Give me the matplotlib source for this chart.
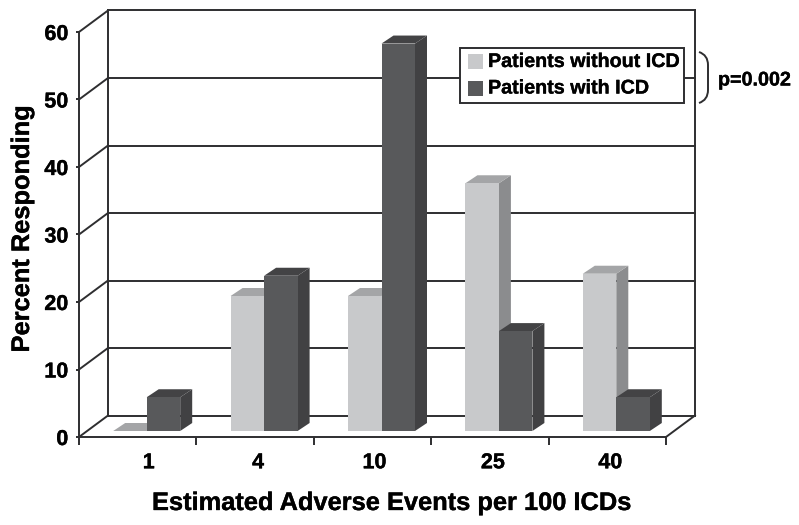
import matplotlib
matplotlib.use('Agg')
import matplotlib.pyplot as plt
import matplotlib.patheffects as pe
from matplotlib.patches import Polygon, Rectangle, PathPatch
from matplotlib.path import Path
from matplotlib.text import Text
from matplotlib.transforms import ScaledTranslation

categories = ['1', '4', '10', '25', '40']
without_icd = [0, 20, 20, 36.7, 23.3]
with_icd = [5, 23, 57.4, 14.8, 5]
y_ticks = [0, 10, 20, 30, 40, 50, 60]
labels = ['Patients without ICD', 'Patients with ICD']

W, H = 799, 525
plt.rcParams['font.family'] = ['Liberation Sans', 'DejaVu Sans']
plt.rcParams['font.weight'] = 'bold'

LINE = '#2e2e30'
LIGHT = ('#c8c9cb', '#a4a5a7', '#8b8c8e')  # front, top, side
DARK = ('#58595b', '#434345', '#414143')

fig = plt.figure(figsize=(W / 100, H / 100), dpi=100)
ax = fig.add_axes([79 / W, (H - 437) / H, (666 - 79) / W, (437 - 32) / H])
ax.set_xlim(0, 5)
ax.set_ylim(0, 60)
ax.patch.set_alpha(0)

# one data unit in pixels, used for the fake 3d depth
ux = (666 - 79) / 5
uy = (437 - 32) / 60
dx = 29 / ux
dy = 21.5 / uy

# back wall
for v in y_ticks:
    ax.plot([0, dx], [v, v + dy], color=LINE, lw=1.4, clip_on=False, zorder=1)
    ax.plot([dx, 5 + dx], [v + dy, v + dy], color=LINE, lw=1.4, clip_on=False, zorder=1)
ax.plot([dx, dx], [dy, 60 + dy], color=LINE, lw=1.4, clip_on=False, zorder=1)
ax.plot([5 + dx, 5 + dx], [dy, 60 + dy], color=LINE, lw=1.4, clip_on=False, zorder=1)
ax.plot([5, 5 + dx], [0, dy], color=LINE, lw=1.4, clip_on=False, zorder=1)


def bar3d(x, val, w, cols):
    y0 = 6 / uy
    sx = 12 / ux
    sy = 8 / uy
    top = y0 + val
    ax.add_patch(Polygon([(x + w, y0), (x + w + sx, y0 + sy), (x + w + sx, top + sy), (x + w, top)],
                         fc=cols[2], ec='none', zorder=2, clip_on=False))
    ax.add_patch(Polygon([(x, top), (x + sx, top + sy), (x + w + sx, top + sy), (x + w, top)],
                         fc=cols[1], ec='none', zorder=2, clip_on=False))
    ax.add_patch(Rectangle((x, y0), w, val, fc=cols[0], ec='none', zorder=2, clip_on=False))


bw = 33.5 / ux
shift = 9 / ux
for i in range(len(categories)):
    bar3d(i + 0.5 + shift - bw, without_icd[i], bw, LIGHT)
    bar3d(i + 0.5 + shift, with_icd[i], bw, DARK)

# front axes
for s in ['top', 'right']:
    ax.spines[s].set_visible(False)
for s in ['left', 'bottom']:
    ax.spines[s].set_linewidth(1.4)
    ax.spines[s].set_color(LINE)
    ax.spines[s].set_zorder(3)

ax.set_xticks(range(6))
ax.set_xticklabels([])
ax.tick_params(axis='x', length=6, width=1.4, color=LINE)
ax.set_xticks([i + 0.5 for i in range(5)], minor=True)
ax.set_xticklabels(categories, minor=True, fontsize=15.5, fontweight='bold', color='black')
ax.tick_params(axis='x', which='minor', length=0, pad=11)
# labels sit a bit right of the category centres in the original
for t, off in zip(ax.get_xticklabels(minor=True), [11, 3, 2, 3, 3]):
    t.set_transform(t.get_transform() + ScaledTranslation(off / 100, 0, fig.dpi_scale_trans))
ax.set_yticks(y_ticks)
ax.set_yticklabels([str(v) for v in y_ticks], fontsize=15.5, fontweight='bold', color='black')
ax.tick_params(axis='y', length=2.2, width=1.4, color=LINE, pad=5.5)

fig.text(391 / W, 1 - 510 / H, 'Estimated Adverse Events per 100 ICDs', fontsize=18.3, fontweight='bold',
         ha='center', va='baseline')
fig.text(29 / W, 1 - 229 / H, 'Percent Responding', fontsize=18.3, fontweight='bold',
         rotation=90, ha='center', va='baseline', rotation_mode='anchor')


def fx(x):
    return x / W


def fy(y):
    return 1 - y / H


# legend box
fig.add_artist(Rectangle((fx(460), fy(103)), 224 / W, 55 / H, fc='white', ec=LINE, lw=1.4,
                         transform=fig.transFigure, zorder=5))
for lab, col, y in zip(labels, [LIGHT[0], DARK[0]], [61.5, 88]):
    fig.add_artist(Rectangle((fx(468), fy(y + 7.5)), 15 / W, 15 / H, fc=col, ec='none',
                             transform=fig.transFigure, zorder=6))
    fig.text(fx(488), fy(y), lab, fontsize=14.2, fontweight='bold', va='center', ha='left', zorder=6)

# bracket and p value
brace = Path([(fx(699), fy(52)), (fx(708), fy(55)), (fx(708), fy(65)),
              (fx(708), fy(90)), (fx(708), fy(100)), (fx(699), fy(103))],
             [Path.MOVETO, Path.CURVE3, Path.CURVE3, Path.LINETO, Path.CURVE3, Path.CURVE3])
fig.add_artist(PathPatch(brace, fc='none', ec=LINE, lw=1.4, transform=fig.transFigure))
fig.text(fx(718), fy(80), 'p=0.002', fontsize=14.2, fontweight='bold', va='center', ha='left')

# the original type is heavier than Liberation bold
for t in fig.findobj(Text):
    t.set_path_effects([pe.withStroke(linewidth=0.25, foreground='black')])

fig.savefig('out.png', dpi=100)
